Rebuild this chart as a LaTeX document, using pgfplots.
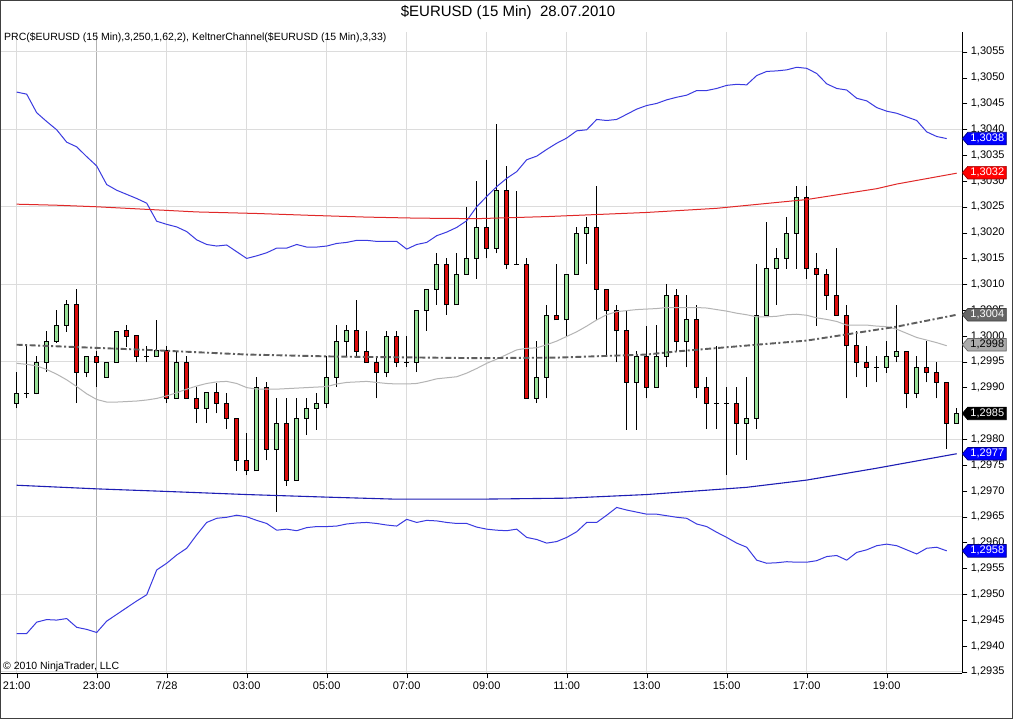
\documentclass[border=0pt]{standalone}
\usepackage{pgfplots}
\pgfplotsset{compat=1.18}
\usepackage{pgfplotstable}
\usepackage{fontspec}
\setmainfont{Liberation Sans}

\definecolor{upgreen}{HTML}{98E098}
\definecolor{downred}{HTML}{DD0D0D}
\definecolor{kblue}{HTML}{3A3AE0}
\definecolor{pblue}{HTML}{1E1EB4}
\definecolor{pred}{HTML}{E02828}
\definecolor{kgray}{HTML}{B4B4B4}
\definecolor{pgray}{HTML}{5E5E5E}
\definecolor{gridc}{HTML}{DCDCDC}

\pgfplotstableread{
i O H L C
0 1.29870 1.29931 1.29860 1.29889
1 1.29889 1.29981 1.29879 1.29889
2 1.29889 1.29961 1.29887 1.29949
3 1.29949 1.30010 1.29930 1.29990
4 1.29989 1.30050 1.29986 1.30021
5 1.30021 1.30070 1.30008 1.30060
6 1.30060 1.30091 1.29870 1.29930
7 1.29930 1.29960 1.29920 1.29960
8 1.29960 1.29971 1.29901 1.29949
9 1.29920 1.29949 1.29920 1.29949
10 1.29949 1.30008 1.29949 1.30008
11 1.30010 1.30021 1.29979 1.29999
12 1.30000 1.30000 1.29949 1.29960
13 1.29960 1.29981 1.29949 1.29960
14 1.29960 1.30031 1.29960 1.29971
15 1.29971 1.29981 1.29870 1.29879
16 1.29879 1.29971 1.29879 1.29949
17 1.29949 1.29961 1.29879 1.29879
18 1.29879 1.29902 1.29831 1.29860
19 1.29860 1.29890 1.29831 1.29890
20 1.29890 1.29908 1.29850 1.29870
21 1.29870 1.29890 1.29819 1.29841
22 1.29841 1.29841 1.29739 1.29759
23 1.29759 1.29812 1.29730 1.29739
24 1.29739 1.29920 1.29739 1.29900
25 1.29900 1.29910 1.29759 1.29781
26 1.29781 1.29879 1.29660 1.29831
27 1.29831 1.29879 1.29710 1.29720
28 1.29720 1.29879 1.29720 1.29841
29 1.29841 1.29879 1.29808 1.29860
30 1.29860 1.29890 1.29818 1.29870
31 1.29870 1.29961 1.29860 1.29920
32 1.29920 1.30021 1.29902 1.29990
33 1.29990 1.30021 1.29960 1.30010
34 1.30010 1.30070 1.29960 1.29970
35 1.29970 1.30010 1.29949 1.29949
36 1.29949 1.29960 1.29879 1.29930
37 1.29930 1.30010 1.29920 1.29999
38 1.29999 1.30010 1.29939 1.29949
39 1.29949 1.29999 1.29939 1.29949
40 1.29949 1.30050 1.29930 1.30050
41 1.30049 1.30090 1.30010 1.30090
42 1.30090 1.30160 1.30060 1.30139
43 1.30139 1.30150 1.30041 1.30060
44 1.30060 1.30160 1.30060 1.30119
45 1.30119 1.30249 1.30119 1.30150
46 1.30150 1.30300 1.30110 1.30210
47 1.30210 1.30341 1.30150 1.30170
48 1.30170 1.30410 1.30160 1.30281
49 1.30281 1.30329 1.30129 1.30139
50 1.30139 1.30281 1.30139 1.30139
51 1.30139 1.30150 1.29879 1.29879
52 1.29879 1.29990 1.29870 1.29920
53 1.29920 1.30060 1.29879 1.30039
54 1.30039 1.30139 1.30031 1.30031
55 1.30031 1.30119 1.29999 1.30119
56 1.30119 1.30210 1.30119 1.30199
57 1.30199 1.30231 1.30139 1.30210
58 1.30210 1.30290 1.30031 1.30090
59 1.30090 1.30090 1.29963 1.30050
60 1.30049 1.30060 1.29949 1.30010
61 1.30010 1.30049 1.29818 1.29910
62 1.29910 1.29971 1.29818 1.29960
63 1.29960 1.30020 1.29879 1.29901
64 1.29901 1.30021 1.29901 1.29961
65 1.29961 1.30101 1.29939 1.30079
66 1.30079 1.30090 1.29970 1.29989
67 1.29989 1.30079 1.29939 1.30031
68 1.30031 1.30060 1.29879 1.29901
69 1.29901 1.29921 1.29819 1.29870
70 1.29870 1.29981 1.29819 1.29870
71 1.29870 1.29902 1.29731 1.29870
72 1.29870 1.29902 1.29770 1.29831
73 1.29831 1.29921 1.29760 1.29841
74 1.29841 1.30139 1.29819 1.30040
75 1.30040 1.30221 1.30040 1.30130
76 1.30130 1.30170 1.30060 1.30150
77 1.30150 1.30230 1.30130 1.30199
78 1.30199 1.30290 1.30130 1.30268
79 1.30268 1.30290 1.30110 1.30130
80 1.30130 1.30160 1.30020 1.30119
81 1.30119 1.30130 1.30050 1.30079
82 1.30079 1.30170 1.30040 1.30040
83 1.30040 1.30060 1.29879 1.29981
84 1.29981 1.30010 1.29920 1.29949
85 1.29949 1.29981 1.29901 1.29939
86 1.29939 1.29961 1.29910 1.29939
87 1.29939 1.29990 1.29929 1.29961
88 1.29961 1.30060 1.29949 1.29970
89 1.29970 1.29970 1.29860 1.29889
90 1.29889 1.29961 1.29879 1.29939
91 1.29939 1.29990 1.29910 1.29930
92 1.29930 1.29949 1.29879 1.29910
93 1.29910 1.29910 1.29781 1.29831
94 1.29831 1.29860 1.29831 1.29850
}\candles

\pgfplotstableread{
i up mid lo
0 1.30472 1.29947 1.29424
1 1.30468 1.29945 1.29424
2 1.30432 1.29942 1.29446
3 1.30415 1.29935 1.29451
4 1.30399 1.29926 1.29450
5 1.30375 1.29915 1.29453
6 1.30366 1.29902 1.29436
7 1.30347 1.29888 1.29432
8 1.30329 1.29877 1.29426
9 1.30293 1.29872 1.29448
10 1.30282 1.29872 1.29461
11 1.30274 1.29873 1.29474
12 1.30266 1.29874 1.29487
13 1.30257 1.29876 1.29499
14 1.30222 1.29879 1.29547
15 1.30216 1.29884 1.29560
16 1.30211 1.29890 1.29576
17 1.30202 1.29897 1.29589
18 1.30186 1.29903 1.29615
19 1.30177 1.29908 1.29639
20 1.30174 1.29911 1.29647
21 1.30176 1.29912 1.29649
22 1.30163 1.29908 1.29653
23 1.30150 1.29900 1.29650
24 1.30155 1.29897 1.29643
25 1.30161 1.29897 1.29637
26 1.30170 1.29897 1.29624
27 1.30170 1.29898 1.29626
28 1.30177 1.29899 1.29623
29 1.30172 1.29900 1.29629
30 1.30172 1.29901 1.29631
31 1.30174 1.29902 1.29631
32 1.30179 1.29907 1.29632
33 1.30181 1.29910 1.29636
34 1.30185 1.29911 1.29638
35 1.30185 1.29912 1.29639
36 1.30183 1.29910 1.29637
37 1.30183 1.29908 1.29634
38 1.30183 1.29907 1.29632
39 1.30168 1.29907 1.29645
40 1.30177 1.29908 1.29639
41 1.30181 1.29912 1.29643
42 1.30194 1.29917 1.29642
43 1.30201 1.29919 1.29639
44 1.30210 1.29921 1.29637
45 1.30223 1.29928 1.29637
46 1.30250 1.29937 1.29630
47 1.30270 1.29947 1.29626
48 1.30289 1.29955 1.29624
49 1.30305 1.29964 1.29623
50 1.30318 1.29973 1.29626
51 1.30341 1.29976 1.29610
52 1.30348 1.29977 1.29606
53 1.30361 1.29983 1.29599
54 1.30373 1.29990 1.29602
55 1.30383 1.29999 1.29610
56 1.30397 1.30008 1.29621
57 1.30399 1.30019 1.29639
58 1.30419 1.30031 1.29639
59 1.30417 1.30041 1.29653
60 1.30419 1.30047 1.29668
61 1.30429 1.30049 1.29663
62 1.30439 1.30051 1.29659
63 1.30446 1.30052 1.29655
64 1.30450 1.30053 1.29655
65 1.30457 1.30055 1.29652
66 1.30462 1.30055 1.29649
67 1.30466 1.30055 1.29647
68 1.30475 1.30055 1.29636
69 1.30475 1.30054 1.29631
70 1.30479 1.30051 1.29620
71 1.30485 1.30048 1.29610
72 1.30487 1.30044 1.29599
73 1.30486 1.30041 1.29591
74 1.30504 1.30037 1.29566
75 1.30512 1.30037 1.29560
76 1.30513 1.30038 1.29561
77 1.30515 1.30041 1.29563
78 1.30520 1.30042 1.29562
79 1.30518 1.30040 1.29562
80 1.30508 1.30035 1.29565
81 1.30488 1.30032 1.29573
82 1.30479 1.30028 1.29575
83 1.30476 1.30021 1.29566
84 1.30460 1.30021 1.29581
85 1.30455 1.30021 1.29586
86 1.30442 1.30019 1.29594
87 1.30435 1.30018 1.29597
88 1.30431 1.30013 1.29594
89 1.30424 1.30005 1.29586
90 1.30417 1.29997 1.29578
91 1.30395 1.29992 1.29589
92 1.30386 1.29987 1.29591
93 1.30382 1.29981 1.29584
}\keltner

\newcommand{\flag}[5]{%
  \filldraw[fill=#2, draw=#5, line width=0.7pt, line join=miter] (#1) -- ++(5.5pt,6.3pt) -- ++(38.5pt,0) -- ++(0,-12.6pt) -- ++(-38.5pt,0) -- cycle;
  \node[text=#3, font=\fontsize{11}{13}\selectfont, inner sep=0pt] at ([xshift=25pt]#1) {#4};}

\begin{document}
\begin{tikzpicture}
\useasboundingbox (0,0) rectangle (1016pt,720pt);
\fill[white] (0,0) rectangle (1016pt,720pt);
\begin{axis}[
  at={(1pt,46.7pt)}, anchor=south west,
  scale only axis, width=961.3pt, height=641.3pt,
  xmin=-1.57, xmax=94.56, ymin=1.29347, ymax=1.305883,
  axis x line=bottom, axis y line=right, axis line style={-,black},
  tick align=outside, major tick length=5pt, tick style={black},
  xtick={0,8,15,23,31,39,47,55,63,71,79,87},
  xticklabels={21:00,23:00,7/28,03:00,05:00,07:00,09:00,11:00,13:00,15:00,17:00,19:00},
  ytick={1.2935,1.2940,1.2945,1.2950,1.2955,1.2960,1.2965,1.2970,1.2975,1.2980,1.2985,1.2990,1.2995,1.3000,1.3005,1.3010,1.3015,1.3020,1.3025,1.3030,1.3035,1.3040,1.3045,1.3050,1.3055},
  scaled y ticks=false,
  yticklabel style={/pgf/number format/.cd, fixed, fixed zerofill, precision=4, use comma, 1000 sep={}, assume math mode=true},
  tick label style={font=\fontsize{11}{13}\selectfont},
  xmajorgrids, major grid style={gridc, line width=0.8pt},
  extra x ticks={8}, extra x tick labels={}, extra x tick style={xmajorgrids=true, major grid style={black!30, line width=0.9pt}},
  extra y ticks={1.2935,1.2950,1.2965,1.2980,1.2995,1.3010,1.3025,1.3040,1.3055},
  extra y tick labels={},
  extra y tick style={ymajorgrids=true, major grid style={gridc, line width=0.8pt}},
]
% wicks
\addplot[draw=none, mark=none, forget plot,
  error bars/.cd, y dir=plus, y explicit, error mark=none,
  error bar style={draw=black, line width=1pt}]
  table[x=i, y=L, y error plus expr={\thisrow{H}-\thisrow{L}}] {\candles};
% body outlines
\addplot[draw=none, mark=none, forget plot,
  error bars/.cd, y dir=plus, y explicit, error mark=none,
  error bar style={draw=black, line width=5pt}]
  table[x=i, y expr={min(\thisrow{O},\thisrow{C})-0.00001}, y error plus expr={abs(\thisrow{C}-\thisrow{O})+0.00002}] {\candles};
% up bodies
\addplot[draw=none, mark=none, forget plot,
  restrict expr to domain={\thisrow{C}-\thisrow{O}}{0:1},
  error bars/.cd, y dir=plus, y explicit, error mark=none,
  error bar style={draw=upgreen, line width=3pt}]
  table[x=i, y expr={min(\thisrow{O},\thisrow{C})+0.00001}, y error plus expr={max(abs(\thisrow{C}-\thisrow{O})-0.00002,0)}] {\candles};
% down bodies
\addplot[draw=none, mark=none, forget plot,
  restrict expr to domain={\thisrow{C}-\thisrow{O}}{-1:0},
  error bars/.cd, y dir=plus, y explicit, error mark=none,
  error bar style={draw=downred, line width=3pt}]
  table[x=i, y expr={min(\thisrow{O},\thisrow{C})+0.00001}, y error plus expr={max(abs(\thisrow{C}-\thisrow{O})-0.00002,0)}] {\candles};

% Keltner channel
\addplot[kgray, line width=1pt, mark=none] table[x=i, y=mid] {\keltner};
\addplot[kblue, line width=1pt, mark=none] table[x=i, y=up] {\keltner};
\addplot[kblue, line width=1pt, mark=none] table[x=i, y=lo] {\keltner};
% PRC
\addplot[pred, line width=1pt, mark=none] coordinates {(0,1.30255) (4,1.30253) (8,1.30250) (13,1.30245) (18,1.30240) (24,1.30237) (30,1.30233) (35,1.30230) (40,1.30228) (46,1.30227) (53,1.30231) (63,1.30239) (70,1.30247) (79,1.30264) (86,1.30285) (88,1.30294) (94,1.30315)};
\addplot[pblue, line width=1.1pt, mark=none] coordinates {(0,1.29711) (8,1.29704) (15,1.29699) (23,1.29693) (31,1.29688) (38,1.29684) (46,1.29684) (55,1.29686) (63,1.29693) (73,1.29707) (79,1.29721) (86,1.29744) (94,1.29772)};
\addplot[pgray, line width=1.9pt, mark=none, dash pattern=on 6pt off 2.5pt on 2pt off 2.5pt] coordinates {(0,1.29983) (13,1.29973) (23,1.29964) (32,1.29960) (46,1.29957) (54,1.29958) (63,1.29964) (66,1.29970) (74,1.29983) (79,1.29991) (83,1.30003) (88,1.30018) (94,1.30041)};

\coordinate (f1) at (axis cs:94.56,1.30382);
\coordinate (f2) at (axis cs:94.56,1.30316);
\coordinate (f3) at (axis cs:94.56,1.30041);
\coordinate (f4) at (axis cs:94.56,1.29983);
\coordinate (f5) at (axis cs:94.56,1.29850);
\coordinate (f6) at (axis cs:94.56,1.29772);
\coordinate (f7) at (axis cs:94.56,1.29584);
\end{axis}

\flag{f1}{blue}{white}{1,3038}{blue!50!black}
\flag{f2}{red}{white}{1,3032}{red!60!black}
\flag{f3}{black!60}{white}{1,3004}{black!75}
\flag{f4}{black!33}{black}{1,2998}{black!60}
\flag{f5}{black}{white}{1,2985}{black}
\flag{f6}{blue}{white}{1,2977}{blue!50!black}
\flag{f7}{blue}{white}{1,2958}{blue!50!black}

\node[font=\fontsize{15}{18}\selectfont] at (508pt,707pt) {\$EURUSD (15 Min)\ \ 28.07.2010};
\node[anchor=west, font=\fontsize{10.5}{12}\selectfont, inner sep=0pt] at (4pt,682pt) {PRC(\$EURUSD (15 Min),3,250,1,62,2), KeltnerChannel(\$EURUSD (15 Min),3,33)};
\node[anchor=west, font=\fontsize{10.5}{12}\selectfont, inner sep=0pt] at (3pt,53pt) {© 2010 NinjaTrader, LLC};
\draw[black!75, line width=1pt] (0.5pt,1.7pt) rectangle (1012.5pt,719.5pt);
\end{tikzpicture}
\end{document}
